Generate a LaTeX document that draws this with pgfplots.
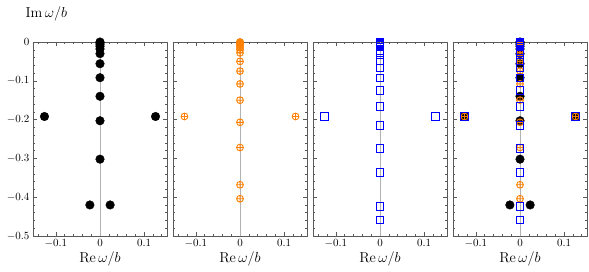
\documentclass[border=0pt]{standalone}
\usepackage{pgfplots}
\pgfplotsset{compat=1.18}
\usepgfplotslibrary{groupplots}
\definecolor{mmaorange}{rgb}{1,0.5,0}
\definecolor{framegray}{gray}{0.35}
\pgfplotstableread{
x y
0 0
0 -0.002
0 -0.006
0 -0.011
0 -0.018
0 -0.030
0 -0.056
0 -0.092
0 -0.140
0 -0.203
0 -0.302
-0.126 -0.192
0.126 -0.192
-0.023 -0.420
0.023 -0.420
}\blackdata
\pgfplotstableread{
x y
0 0
0 -0.001
0 -0.003
0 -0.006
0 -0.010
0 -0.015
0 -0.020
0 -0.028
0 -0.050
0 -0.075
0 -0.108
0 -0.150
0 -0.207
0 -0.272
0 -0.368
0 -0.404
-0.126 -0.192
0.126 -0.192
}\orangedata
\pgfplotstableread{
x y
0 0
0 -0.001
0 -0.003
0 -0.006
0 -0.009
0 -0.013
0 -0.021
0 -0.032
0 -0.047
0 -0.067
0 -0.093
0 -0.126
0 -0.166
0 -0.216
0 -0.274
0 -0.337
0 -0.425
0 -0.459
-0.126 -0.192
0.126 -0.192
}\bluedata
\begin{document}
\begin{tikzpicture}
\begin{groupplot}[
  group style={group size=4 by 1, horizontal sep=6pt, yticklabels at=edge left},
  scale only axis, width=134pt, height=194pt,
  xmin=-0.152, xmax=0.152, ymin=-0.5, ymax=0,
  xtick={-0.1,0,0.1}, ytick={-0.5,-0.4,-0.3,-0.2,-0.1,0},
  minor xtick={-0.14,-0.12,-0.08,-0.06,-0.04,-0.02,0.02,0.04,0.06,0.08,0.12,0.14},
  minor ytick={-0.48,-0.46,-0.44,-0.42,-0.38,-0.36,-0.34,-0.32,-0.28,-0.26,-0.24,-0.22,-0.18,-0.16,-0.14,-0.12,-0.08,-0.06,-0.04,-0.02},
  tick align=inside, major tick length=4pt, minor tick length=2pt,
  every tick/.style={framegray, line width=0.5pt},
  axis line style={framegray, line width=0.8pt},
  tick label style={font=\fontsize{10.5}{12}\selectfont},
  xlabel={$\mathrm{Re}\,\omega/b$},
  xlabel style={font=\fontsize{13.5}{16}\selectfont, yshift=3pt},
  clip=false,
  scaled ticks=false,
  /pgf/number format/fixed,
]
\nextgroupplot
\addplot[gray!60, line width=0.5pt] coordinates {(0,-0.5) (0,0)};
\addplot[only marks, mark=*, mark size=4.3pt, black] table {\blackdata};
\nextgroupplot
\addplot[gray!60, line width=0.5pt] coordinates {(0,-0.5) (0,0)};
\addplot[only marks, mark=oplus, mark size=3.4pt, mmaorange, line width=0.9pt] table {\orangedata};
\nextgroupplot
\addplot[gray!60, line width=0.5pt] coordinates {(0,-0.5) (0,0)};
\addplot[only marks, mark=square, mark size=3.9pt, blue, line width=1pt] table {\bluedata};
\nextgroupplot
\addplot[gray!60, line width=0.5pt] coordinates {(0,-0.5) (0,0)};
\addplot[only marks, mark=*, mark size=4.3pt, black] table {\blackdata};
\addplot[only marks, mark=oplus, mark size=3.4pt, mmaorange, line width=0.9pt] table {\orangedata};
\addplot[only marks, mark=square, mark size=3.9pt, blue, line width=1pt] table {\bluedata};
\end{groupplot}
\node[anchor=west, font=\fontsize{13.5}{16}\selectfont] at ([xshift=-11pt, yshift=28pt]group c1r1.north west) {$\mathrm{Im}\,\omega/b$};
\pgfresetboundingbox
\path[use as bounding box] ([xshift=-33pt, yshift=-36pt]group c1r1.south west) rectangle ([xshift=556pt, yshift=236pt]group c1r1.south west);
\end{tikzpicture}
\end{document}
